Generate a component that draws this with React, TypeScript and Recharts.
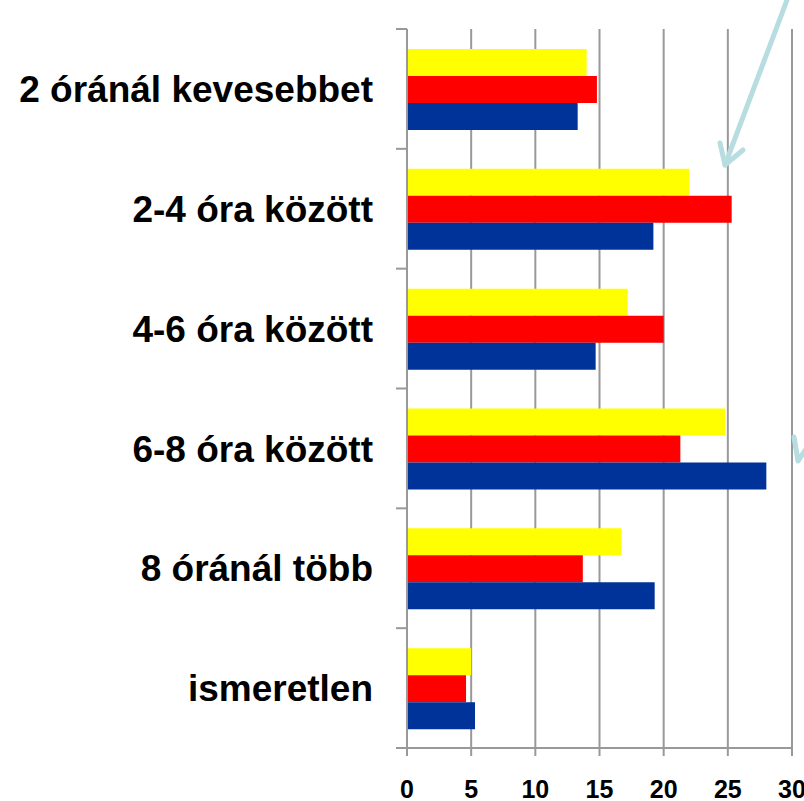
import React from 'react';
import { BarChart, Bar, XAxis, YAxis, CartesianGrid } from 'recharts';

const categories = [
  '2 óránál kevesebbet',
  '2-4 óra között',
  '4-6 óra között',
  '6-8 óra között',
  '8 óránál több',
  'ismeretlen',
];
const yellowValues = [14.0, 22.0, 17.2, 24.8, 16.7, 5.0];
const redValues = [14.8, 25.3, 20.0, 21.3, 13.7, 4.6];
const blueValues = [13.3, 19.2, 14.7, 28.0, 19.3, 5.3];
const xTicks = [0, 5, 10, 15, 20, 25, 30];

const W = 804;
const H = 801;
const TOP = 29;
const X_AXIS_H = 53;
const GRID = '#999999';
const FONT = '"Liberation Sans", Arial, sans-serif';

const data = categories.map((name, i) => ({
  name,
  yellow: yellowValues[i],
  red: redValues[i],
  blue: blueValues[i],
}));

const halfBand = (H - TOP - X_AXIS_H) / categories.length / 2;

// category label at band centre, tick mark at band edges (like Excel)
const CategoryTick = (props: any) => {
  const { x, y, payload, index } = props;
  const axisX = x + 34;
  return (
    <g>
      <line x1={axisX - 11} x2={axisX} y1={y - halfBand} y2={y - halfBand} stroke={GRID} strokeWidth={2} />
      {index === categories.length - 1 && (
        <line x1={axisX - 11} x2={axisX} y1={y + halfBand} y2={y + halfBand} stroke={GRID} strokeWidth={2} />
      )}
      <text
        x={x}
        y={y}
        dy="0.355em"
        textAnchor="end"
        fontFamily={FONT}
        fontWeight="bold"
        fontSize={37}
        fill="#000"
      >
        {payload.value}
      </text>
    </g>
  );
};

const NumberTick = (props: any) => {
  const { x, y, payload } = props;
  return (
    <text
      x={x}
      y={y + 18}
      textAnchor="middle"
      fontFamily={FONT}
      fontWeight="bold"
      fontSize={25}
      fill="#000"
    >
      {payload.value}
    </text>
  );
};

export default function App() {
  return (
    <div style={{ position: 'absolute', left: 0, top: 0, width: W, height: H, background: '#fff', overflow: 'hidden' }}>
      <BarChart
        width={W}
        height={H}
        data={data}
        layout="vertical"
        margin={{ top: TOP, right: 12, bottom: 0, left: 0 }}
        barCategoryGap={20}
        barGap={0}
      >
        <CartesianGrid horizontal={false} vertical={true} stroke={GRID} strokeWidth={2} />
        <XAxis
          type="number"
          domain={[0, 30]}
          ticks={xTicks}
          height={X_AXIS_H}
          interval={0}
          axisLine={{ stroke: GRID, strokeWidth: 2 }}
          tickLine={{ stroke: GRID, strokeWidth: 2 }}
          tickSize={8}
          tickMargin={24}
          tick={<NumberTick />}
        />
        <YAxis
          type="category"
          dataKey="name"
          width={407}
          axisLine={{ stroke: GRID, strokeWidth: 2 }}
          tickLine={false}
          tickSize={0}
          tickMargin={0}
          interval={0}
          tick={(p: any) => <CategoryTick {...p} x={373} />}
        />
        <Bar dataKey="yellow" fill="#FFFF00" isAnimationActive={false} />
        <Bar dataKey="red" fill="#FF0000" isAnimationActive={false} />
        <Bar dataKey="blue" fill="#003399" isAnimationActive={false} />
      </BarChart>
      <svg width={W} height={H} style={{ position: 'absolute', left: 0, top: 0, pointerEvents: 'none' }}>
        <g stroke="#B7DDE0" strokeWidth={5} fill="none" strokeLinecap="round" strokeLinejoin="round">
          <path d="M 790 -8 L 725 165" />
          <path d="M 720 143 L 725 165 L 743 150" />
          <path d="M 794 437 L 798 461 L 808 446" />
        </g>
      </svg>
    </div>
  );
}
